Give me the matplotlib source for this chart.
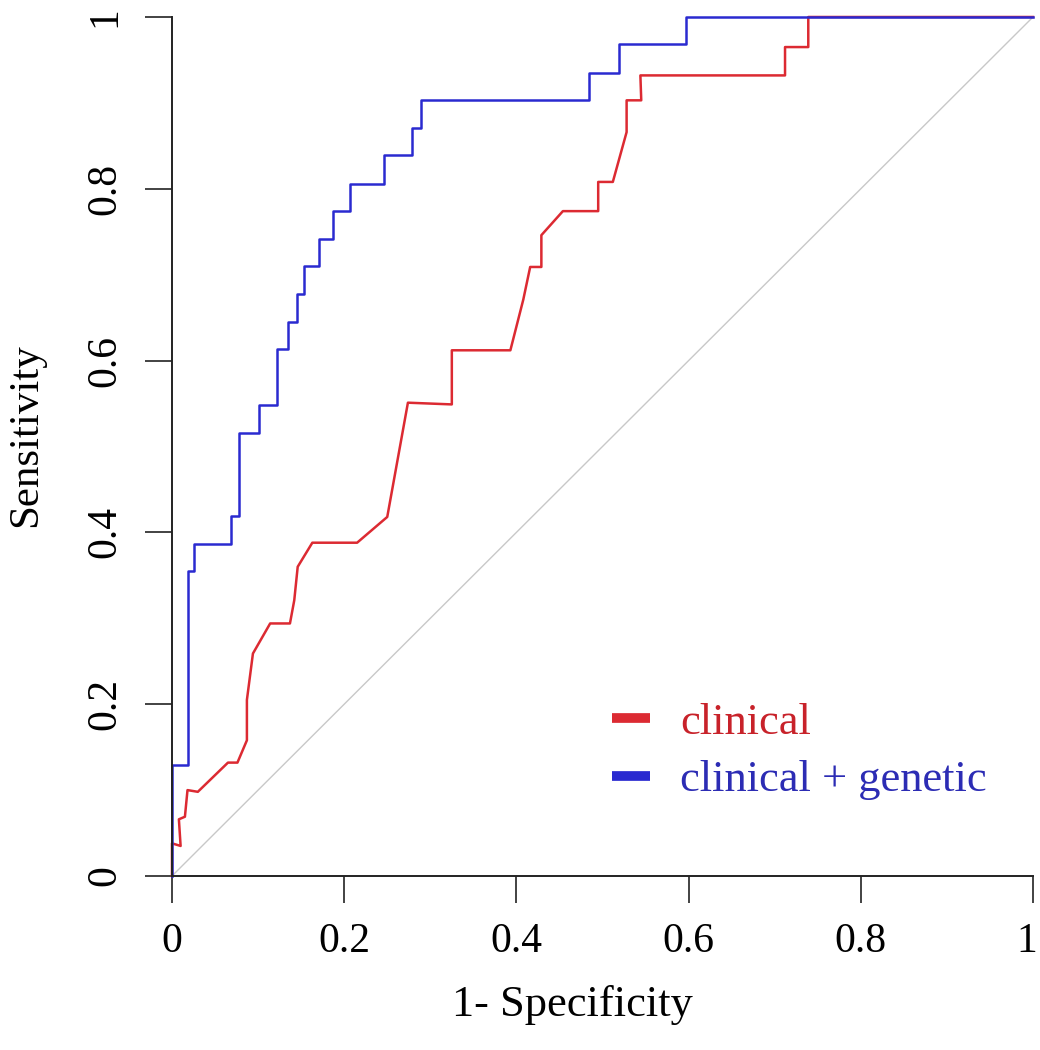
import matplotlib
matplotlib.use('Agg')
import matplotlib.pyplot as plt
import matplotlib.transforms as mtransforms

# ROC curves (1 - specificity, sensitivity)
fpr_clin = [0, 0, 0.010, 0.008, 0.015, 0.018, 0.030, 0.065, 0.076, 0.087, 0.087,
            0.094, 0.114, 0.137, 0.142, 0.146, 0.163, 0.215, 0.250, 0.274, 0.325,
            0.325, 0.393, 0.408, 0.416, 0.429, 0.429, 0.454, 0.495, 0.495, 0.512,
            0.528, 0.528, 0.545, 0.544, 0.712, 0.712, 0.739, 0.739, 1.0]
tpr_clin = [0, 0.038, 0.035, 0.066, 0.069, 0.100, 0.098, 0.132, 0.132, 0.158, 0.205,
            0.259, 0.294, 0.294, 0.321, 0.360, 0.388, 0.388, 0.418, 0.551, 0.549,
            0.612, 0.612, 0.671, 0.709, 0.709, 0.746, 0.774, 0.774, 0.808, 0.808,
            0.866, 0.903, 0.903, 0.932, 0.932, 0.965, 0.965, 1.0, 1.0]

fpr_gen = [0, 0, 0.019, 0.025, 0.068, 0.078, 0.101, 0.122, 0.135, 0.145, 0.153,
           0.171, 0.187, 0.207, 0.246, 0.279, 0.289, 0.484, 0.519, 0.597, 1.0]
tpr_gen = [0, 0.129, 0.355, 0.387, 0.419, 0.516, 0.548, 0.613, 0.645, 0.677, 0.710,
           0.742, 0.774, 0.806, 0.839, 0.871, 0.903, 0.935, 0.968, 1.0, 1.0]

ticks = [0, 0.2, 0.4, 0.6, 0.8, 1]
tick_labels = ['0', '0.2', '0.4', '0.6', '0.8', '1']
labels = ['clinical', 'clinical + genetic']

red = '#dc2a32'
blue = '#2a2ad0'

plt.rcParams['font.family'] = ['Liberation Serif', 'DejaVu Serif']
fig = plt.figure(figsize=(10.4, 10.5), dpi=100)
ax = fig.add_axes([172 / 1040, 1 - 876 / 1050, 861 / 1040, 859 / 1050])

ax.plot([0, 1], [0, 1], color='#c8c8c8', lw=1.0, clip_on=False)
ax.plot(fpr_clin, tpr_clin, color=red, lw=1.8, clip_on=False, label=labels[0])
ax.plot(fpr_gen, tpr_gen, color=blue, lw=1.8, drawstyle='steps-post',
        clip_on=False, label=labels[1])

ax.set_xlim(0, 1)
ax.set_ylim(0, 1)
ax.spines['top'].set_visible(False)
ax.spines['right'].set_visible(False)
for s in ['left', 'bottom']:
    ax.spines[s].set_linewidth(1.4)
    ax.spines[s].set_color('#222222')

ax.set_xticks(ticks)
ax.set_xticklabels(tick_labels)
ax.set_yticks(ticks)
ax.set_yticklabels(tick_labels, rotation=90, va='center')
ax.tick_params(direction='out', length=19.5, width=1.2, labelsize=30,
               color='#222222')
ax.tick_params(axis='x', pad=14)
ax.tick_params(axis='y', pad=15)

# keep the last x label inside the canvas
last = ax.get_xticklabels()[-1]
last.set_transform(last.get_transform() +
                   mtransforms.ScaledTranslation(-6 / 100, 0, fig.dpi_scale_trans))

ax.set_xlabel('1- Specificity', fontsize=32)
ax.set_ylabel('Sensitivity', fontsize=31)
ax.xaxis.set_label_coords(0.465, -0.127)
ax.yaxis.set_label_coords(-0.1475, 0.513)

leg = ax.legend(loc='upper left', bbox_to_anchor=(0.511, 0.202), frameon=False,
                fontsize=32, handlelength=0.86, handletextpad=0.68,
                labelspacing=0.4, borderpad=0, borderaxespad=0)
for ln in leg.get_lines():
    ln.set_linewidth(7)
    ln.set_solid_capstyle('butt')
for txt, c in zip(leg.get_texts(), ['#c8222a', '#2c2cb4']):
    txt.set_color(c)

fig.savefig('out.png', dpi=100)
